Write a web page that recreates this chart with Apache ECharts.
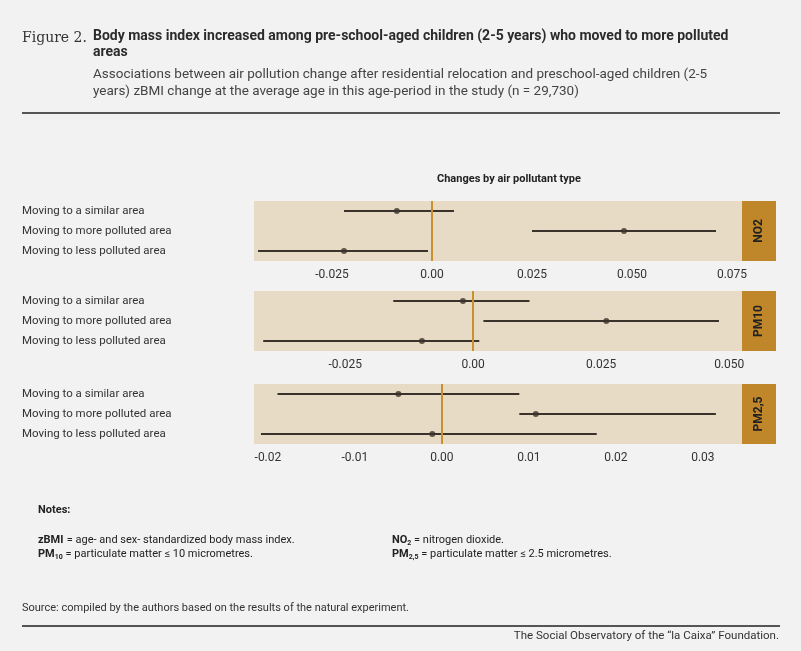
<!DOCTYPE html>
<html>
<head>
<meta charset="utf-8">
<script src="https://cdn.jsdelivr.net/npm/echarts@6/dist/echarts.min.js"></script>
<style>
html,body{margin:0;padding:0;background:#f2f2f2;}
#main{width:801px;height:651px;}
</style>
</head>
<body>
<div id="main"></div>
<script>
var categories = ['Moving to a similar area', 'Moving to more polluted area', 'Moving to less polluted area'];
var pollutants = ['NO2', 'PM10', 'PM2,5'];
// estimate, lower CI, upper CI per pollutant (same order as categories)
var no2Est = [-0.0088, 0.048, -0.022];
var no2Low = [-0.022, 0.025, -0.0435];
var no2High = [0.0055, 0.071, -0.001];
var pm10Est = [-0.002, 0.026, -0.010];
var pm10Low = [-0.0156, 0.002, -0.041];
var pm10High = [0.011, 0.048, 0.0012];
var pm25Est = [-0.005, 0.0108, -0.0011];
var pm25Low = [-0.0189, 0.0089, -0.0208];
var pm25High = [0.0089, 0.0315, 0.0178];
var no2Ticks = [-0.025, 0, 0.025, 0.05, 0.075];
var pm10Ticks = [-0.025, 0, 0.025, 0.05];
var pm25Ticks = [-0.02, -0.01, 0, 0.01, 0.02, 0.03];

var panels = [
  {est: no2Est, low: no2Low, high: no2High, ticks: no2Ticks, min: -0.0445, max: 0.0775, top: 201, dec: 3},
  {est: pm10Est, low: pm10Low, high: pm10High, ticks: pm10Ticks, min: -0.0428, max: 0.0525, top: 291, dec: 3},
  {est: pm25Est, low: pm25Low, high: pm25High, ticks: pm25Ticks, min: -0.0216, max: 0.0345, top: 384, dec: 2}
];

var grids = [], xAxes = [], yAxes = [], series = [], graphics = [];
panels.forEach(function (p, i) {
  grids.push({left: 254, width: 488, top: p.top, height: 60, backgroundColor: '#e8dbc6', show: true, borderWidth: 0});
  xAxes.push({
    type: 'value', gridIndex: i, min: p.min, max: p.max,
    axisLine: {show: false}, splitLine: {show: false},
    axisTick: {show: false},
    axisLabel: {customValues: p.ticks, color: '#333', fontSize: 12, fontFamily: 'Roboto', margin: 8,
      formatter: function (v) { return Math.abs(v) < 1e-9 ? '0.00' : v.toFixed(p.dec); }}
  });
  yAxes.push({
    type: 'category', gridIndex: i, data: categories, inverse: true,
    axisLine: {show: false}, axisTick: {show: false}, splitLine: {show: false},
    axisLabel: {align: 'left', margin: 232, color: '#333', fontSize: 11.5, fontFamily: 'Roboto'}
  });
  series.push({
    type: 'custom', xAxisIndex: i, yAxisIndex: i,
    data: categories.map(function (c, k) { return [k, p.low[k], p.high[k]]; }),
    encode: {x: [1, 2], y: 0},
    renderItem: function (params, api) {
      var a = api.coord([api.value(1), api.value(0)]);
      var b = api.coord([api.value(2), api.value(0)]);
      return {type: 'line', shape: {x1: a[0], y1: a[1], x2: b[0], y2: b[1]}, style: {stroke: '#3a332c', lineWidth: 2}};
    },
    z: 3
  });
  series.push({
    type: 'scatter', xAxisIndex: i, yAxisIndex: i, symbolSize: 6,
    itemStyle: {color: '#3a332c'},
    data: categories.map(function (c, k) { return [p.est[k], k]; }),
    markLine: {silent: true, symbol: 'none', label: {show: false},
      lineStyle: {color: '#c8902f', type: 'solid', width: 2}, data: [{xAxis: 0}]},
    z: 4
  });
  graphics.push({type: 'rect', left: 742, top: p.top, shape: {width: 34, height: 60}, style: {fill: '#c0862a'}});
  graphics.push({type: 'text', x: 759, y: p.top + 30, rotation: Math.PI / 2,
    style: {text: pollutants[i], fill: '#222', font: 'bold 12px Roboto', align: 'center', verticalAlign: 'middle'}});
});

var rich = {b: {fontWeight: 'bold', fontSize: 11, fontFamily: 'Roboto', fill: '#222'}, n: {fontSize: 11, fontFamily: 'Roboto', fill: '#222'}, s: {fontWeight: 'bold', fontSize: 7, fontFamily: 'Roboto', fill: '#222', verticalAlign: 'bottom', padding: [6, 0, 0, 0]}};

graphics = graphics.concat([
  {type: 'text', left: 22, top: 31, style: {text: 'Figure 2.', fill: '#333', font: '14px "DejaVu Serif"'}},
  {type: 'text', left: 93, top: 28, style: {text: 'Body mass index increased among pre-school-aged children (2-5 years) who moved to more polluted\nareas', fill: '#2b2b2b', font: 'bold 14px Roboto', lineHeight: 16}},
  {type: 'text', left: 93, top: 66, style: {text: 'Associations between air pollution change after residential relocation and preschool-aged children (2-5\nyears) zBMI change at the average age in this age-period in the study (n = 29,730)', fill: '#444', font: '13.5px Roboto', lineHeight: 17}},
  {type: 'rect', left: 22, top: 112, shape: {width: 758, height: 2}, style: {fill: '#555'}},
  {type: 'text', left: 437, top: 174, style: {text: 'Changes by air pollutant type', fill: '#222', font: 'bold 11px Roboto'}},
  {type: 'text', left: 38, top: 505, style: {text: 'Notes:', fill: '#222', font: 'bold 11px Roboto'}},
  {type: 'text', left: 38, top: 533, style: {rich: rich,
    text: '{b|zBMI} {n|= age- and sex- standardized body mass index.}\n{b|PM}{s|10}{n| = particulate matter ≤ 10 micrometres.}', lineHeight: 14}},
  {type: 'text', left: 392, top: 533, style: {rich: rich,
    text: '{b|NO}{s|2}{n| = nitrogen dioxide.}\n{b|PM}{s|2,5}{n| = particulate matter ≤ 2.5 micrometres.}', lineHeight: 14}},
  {type: 'text', left: 22, top: 603, style: {text: 'Source: compiled by the authors based on the results of the natural experiment.', fill: '#333', font: '11px Roboto'}},
  {type: 'rect', left: 22, top: 625, shape: {width: 758, height: 2}, style: {fill: '#555'}},
  {type: 'text', right: 22, top: 630, style: {text: 'The Social Observatory of the “la Caixa” Foundation.', fill: '#333', font: '11.5px Roboto'}}
]);

var myChart = echarts.init(document.getElementById('main'));
myChart.setOption({
  backgroundColor: '#f2f2f2',
  animation: false,
  grid: grids, xAxis: xAxes, yAxis: yAxes, series: series, graphic: graphics
});
</script>
</body>
</html>
